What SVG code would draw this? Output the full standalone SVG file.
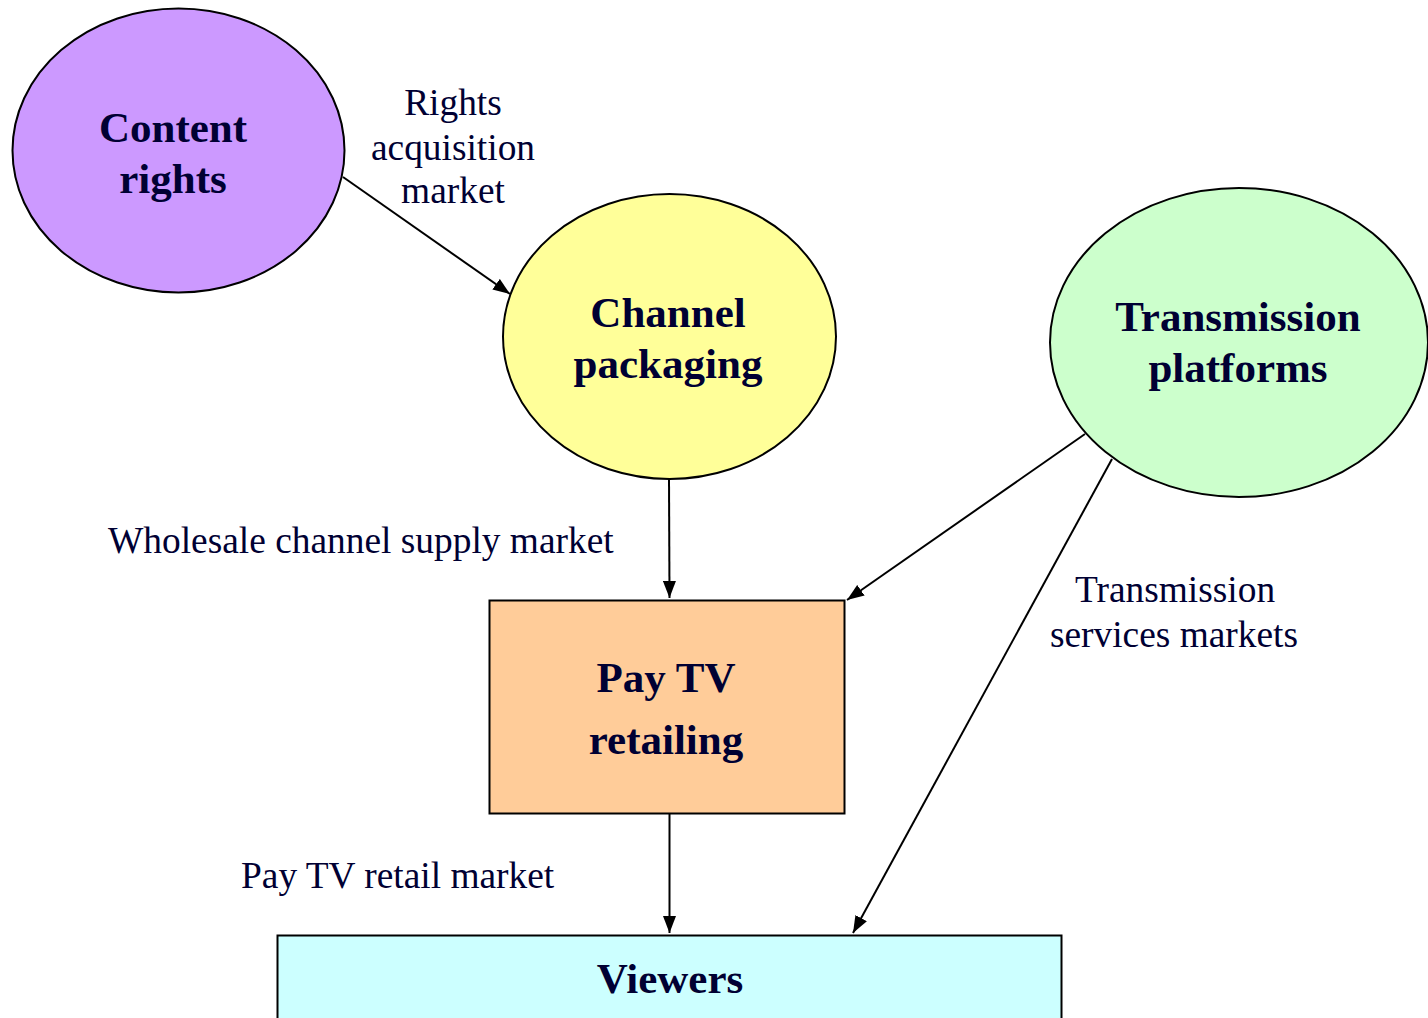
<svg xmlns="http://www.w3.org/2000/svg" width="1428" height="1018" viewBox="0 0 1428 1018">
  <style>
    .node { stroke: #000; stroke-width: 2; }
    .title { font-family: "Liberation Serif", "Times New Roman", serif; font-weight: bold; font-size: 43px; fill: #000033; text-anchor: middle; }
    .label { font-family: "Liberation Serif", "Times New Roman", serif; font-size: 37.4px; fill: #000033; }
    .mid { text-anchor: middle; }
    .edge { stroke: #000; stroke-width: 2; fill: none; marker-end: url(#arrow); }
  </style>
  <defs>
    <marker id="arrow" viewBox="0 0 17 13" refX="17" refY="6.5" markerWidth="17" markerHeight="13" markerUnits="userSpaceOnUse" orient="auto">
      <path d="M0,0 L17,6.5 L0,13 Z" fill="#000"/>
    </marker>
  </defs>
  <rect width="1428" height="1018" fill="#fff"/>

  <g id="connectors">
    <line class="edge" x1="343" y1="177" x2="510" y2="294"/>
    <line class="edge" x1="669" y1="479" x2="669.5" y2="598"/>
    <line class="edge" x1="1085" y1="434" x2="847" y2="600"/>
    <line class="edge" x1="669.5" y1="814" x2="669.5" y2="933"/>
    <line class="edge" x1="1112" y1="459" x2="853" y2="933"/>
  </g>

  <g id="content-rights">
    <ellipse class="node" cx="178.5" cy="150.5" rx="166" ry="142" fill="#cc99ff"/>
    <text class="title" x="173" y="142">Content</text>
    <text class="title" x="173" y="193">rights</text>
  </g>

  <g id="channel-packaging">
    <ellipse class="node" cx="669.5" cy="336.5" rx="166.5" ry="142.5" fill="#ffff99"/>
    <text class="title" x="668" y="327">Channel</text>
    <text class="title" x="668" y="378">packaging</text>
  </g>

  <g id="transmission-platforms">
    <ellipse class="node" cx="1239" cy="342.5" rx="189" ry="154.5" fill="#ccffcc"/>
    <text class="title" x="1238" y="331">Transmission</text>
    <text class="title" x="1238" y="382">platforms</text>
  </g>

  <g id="pay-tv-retailing">
    <rect class="node" x="489.5" y="600.5" width="355" height="213" fill="#ffcc99"/>
    <text class="title" x="666" y="692">Pay TV</text>
    <text class="title" x="666" y="754">retailing</text>
  </g>

  <g id="viewers">
    <rect class="node" x="277.5" y="935.5" width="784" height="100" fill="#ccffff"/>
    <text class="title" x="670" y="993">Viewers</text>
  </g>

  <g id="labels">
    <text class="label mid" x="453" y="115">Rights</text>
    <text class="label mid" x="453" y="160">acquisition</text>
    <text class="label mid" x="453" y="203">market</text>
    <text class="label" x="108" y="553">Wholesale channel supply market</text>
    <text class="label mid" x="1175" y="602">Transmission</text>
    <text class="label mid" x="1174" y="647">services markets</text>
    <text class="label" x="241" y="888">Pay TV retail market</text>
  </g>
</svg>
